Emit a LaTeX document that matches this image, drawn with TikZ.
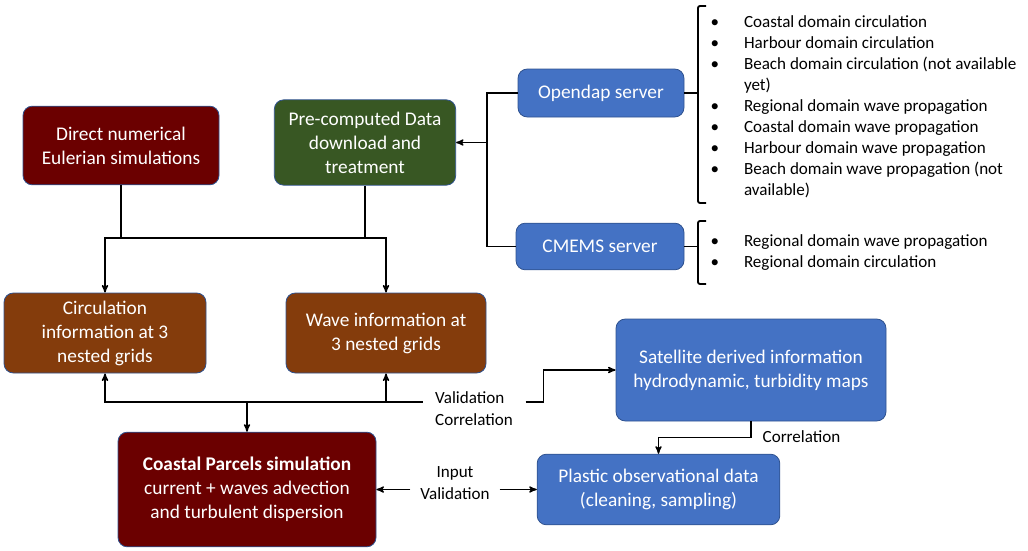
\documentclass[tikz,border=0pt]{standalone}
\usepackage{fontspec}
\setmainfont{Carlito}
\usetikzlibrary{arrows}
\usetikzlibrary{positioning}

\definecolor{simred}{HTML}{6B0000}
\definecolor{datagreen}{HTML}{385723}
\definecolor{gridbrown}{HTML}{843C0C}
\definecolor{obsblue}{HTML}{4472C4}
\definecolor{boxline}{HTML}{2F528F}

\begin{document}
\begin{tikzpicture}[x=0.75pt,y=-0.75pt,>=stealth',line width=1pt,
    box/.style={rectangle,rounded corners=7pt,draw=boxline,line width=0.6pt,
      text=white,align=center,font=\fontsize{14.5}{18}\selectfont},
    label node/.style={font=\fontsize{12.8}{16.5}\selectfont,inner sep=9pt},
    list node/.style={font=\fontsize{12.8}{15.75}\selectfont,inner sep=0pt,anchor=west},
    brace/.style={line width=1.4pt,rounded corners=1.5pt}]

  \useasboundingbox (0,0) rectangle (1028,550);

  % boxes
  \node[box,fill=simred,minimum width=147pt,minimum height=59pt] (direct) at (121,145.5)
    {Direct numerical\\Eulerian simulations};
  \node[box,fill=datagreen,minimum width=136pt,minimum height=64pt] (pre) at (365,142.5)
    {Pre-computed Data\\download and\\treatment};
  \node[box,fill=obsblue,minimum width=124.5pt,minimum height=36pt] (opendap) at (601,93)
    {Opendap server};
  \node[box,fill=obsblue,minimum width=126pt,minimum height=35pt] (cmems) at (600,246.5)
    {CMEMS server};
  \node[box,fill=gridbrown,minimum width=151.5pt,minimum height=60pt] (circ) at (105,333)
    {Circulation\\information at 3\\nested grids};
  \node[box,fill=gridbrown,minimum width=150pt,minimum height=60pt] (wave) at (386,333)
    {Wave information at\\3 nested grids};
  \node[box,fill=simred,minimum width=193.5pt,minimum height=86pt] (coastal) at (247,489.5)
    {\textbf{Coastal Parcels simulation}\\current + waves advection\\and turbulent dispersion};
  \node[box,fill=obsblue,minimum width=202.5pt,minimum height=76.5pt] (sat) at (751,370)
    {Satellite derived information\\hydrodynamic, turbidity maps};
  \node[box,fill=obsblue,minimum width=182pt,minimum height=53pt] (plastic) at (658.5,489.5)
    {Plastic observational data\\(cleaning, sampling)};

  % labels on the connectors
  \node[label node,align=left] (valtext) at (474,409) {Validation\\Correlation};
  \node[label node,align=center,inner sep=7pt] (inval) at (455,483) {Input\\Validation};
  \node[label node,inner sep=0pt,anchor=west] (corr) at (762,437) {Correlation};

  % server data lists
  \node[list node] (opendaplist) at (710,107) {%
    \begin{tabular}{@{}p{25pt}@{}l@{}}
      \textbullet & Coastal domain circulation\\
      \textbullet & Harbour domain circulation\\
      \textbullet & Beach domain circulation (not available\\
                  & yet)\\
      \textbullet & Regional domain wave propagation\\
      \textbullet & Coastal domain wave propagation\\
      \textbullet & Harbour domain wave propagation\\
      \textbullet & Beach domain wave propagation (not\\
                  & available)
    \end{tabular}};
  \node[list node] (cmemslist) at (710,252.5) {%
    \begin{tabular}{@{}p{25pt}@{}l@{}}
      \textbullet & Regional domain wave propagation\\
      \textbullet & Regional domain circulation
    \end{tabular}};

  % braces
  \coordinate (opentop) at (698,6);
  \coordinate (openbot) at (698,203);
  \coordinate (cmtop) at (698,221);
  \coordinate (cmbot) at (698,284);
  \draw[brace] (opentop) ++(8,0) -- (opentop) -- (openbot) -- ++(8,0);
  \draw[brace] (opendap.east) -- (opendap.east -| opentop);
  \draw[brace] (cmtop) ++(8,0) -- (cmtop) -- (cmbot) -- ++(8,0);
  \draw[brace] (cmems.east) -- (cmems.east -| cmtop);

  % servers to pre-computed data
  \coordinate (srv) at (487,142.5);
  \draw (opendap.west) -| (srv);
  \draw (cmems.west) -| (srv);
  \draw[->] (srv) -- (pre.east);

  % models to nested grids
  \coordinate (split) at (247,238);
  \draw[->] (direct.south) |- (split) -| (circ.north);
  \draw[->] (pre.south) |- (split) -| (wave.north);

  % nested grids and simulation
  \coordinate (valj) at (247,402);
  \draw[->] (valj) -- (coastal.north);
  \draw[->] (valj) -| (circ.south);
  \draw[->] (valj) -| (wave.south);
  \draw (valj) -- (valtext.west |- valj);
  \draw[->] (valtext.east |- valj) -- ++(18,0) |- (sat.west);

  % observations
  \draw[->] (sat.south) -- ++(0,16) -| (plastic.north);
  \draw[->] (inval.west |- coastal.east) -- (coastal.east);
  \draw[->] (inval.east |- coastal.east) -- (plastic.west);

\end{tikzpicture}
\end{document}
